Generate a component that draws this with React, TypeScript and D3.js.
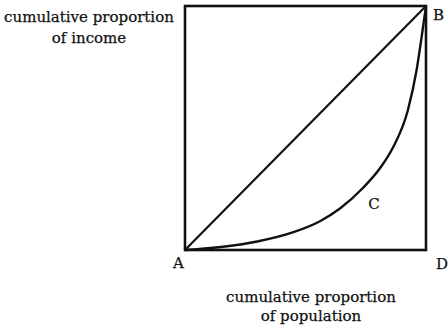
import React from "react";
import * as d3 from "d3";

// Lorenz curve: cumulative share of population vs cumulative share of income
const populationShare = [0, 0.158, 0.3, 0.45, 0.56, 0.643, 0.739, 0.809, 0.863, 0.925, 0.961, 0.983, 1];
const incomeShare = [0, 0.0135, 0.035, 0.073, 0.118, 0.17, 0.255, 0.335, 0.42, 0.574, 0.738, 0.881, 1];

// Line of perfect equality
const equalityLine = [0, 1];

const yAxisTitle = ["cumulative proportion", "of income"];
const xAxisTitle = ["cumulative proportion", "of population"];
const cornerLabels = ["A", "B", "C", "D"];

const W = 448;
const H = 330;
const FONT = "'DejaVu Serif', serif";

export default function App() {
  const x = d3.scaleLinear().domain([0, 1]).range([185, 426]);
  const y = d3.scaleLinear().domain([0, 1]).range([250, 6]);

  const lorenz = d3
    .line<number>()
    .x((_, i) => x(populationShare[i]))
    .y((d) => y(d))
    .curve(d3.curveMonotoneX)(incomeShare) as string;

  const diag = d3
    .line<number>()
    .x((d) => x(d))
    .y((d) => y(d))(equalityLine) as string;

  const textStyle: React.CSSProperties = {
    fontFamily: FONT,
    fontSize: 15,
    stroke: "#111",
    strokeWidth: 0.25,
  };

  return (
    <svg
      width={W}
      height={H}
      style={{ position: "absolute", left: 0, top: 0, background: "#fff" }}
    >
      <rect
        x={x(0)}
        y={y(1)}
        width={x(1) - x(0)}
        height={y(0) - y(1)}
        fill="none"
        stroke="#111"
        strokeWidth={2.6}
      />
      <path d={diag} fill="none" stroke="#111" strokeWidth={2.2} />
      <path d={lorenz} fill="none" stroke="#111" strokeWidth={2.4} />

      <g fill="#111" textAnchor="middle">
        <text style={textStyle} x={89} y={22}>{yAxisTitle[0]}</text>
        <text style={textStyle} x={89} y={43}>{yAxisTitle[1]}</text>
        <text style={textStyle} x={311} y={302}>{xAxisTitle[0]}</text>
        <text style={textStyle} x={311} y={321}>{xAxisTitle[1]}</text>
      </g>

      <g fill="#111">
        <text style={textStyle} x={x(0) - 12} y={268}>{cornerLabels[0]}</text>
        <text style={textStyle} x={x(1) + 7} y={20}>{cornerLabels[1]}</text>
        <text style={textStyle} x={x(0.76)} y={209}>{cornerLabels[2]}</text>
        <text style={textStyle} x={x(1) + 10} y={269}>{cornerLabels[3]}</text>
      </g>
    </svg>
  );
}
